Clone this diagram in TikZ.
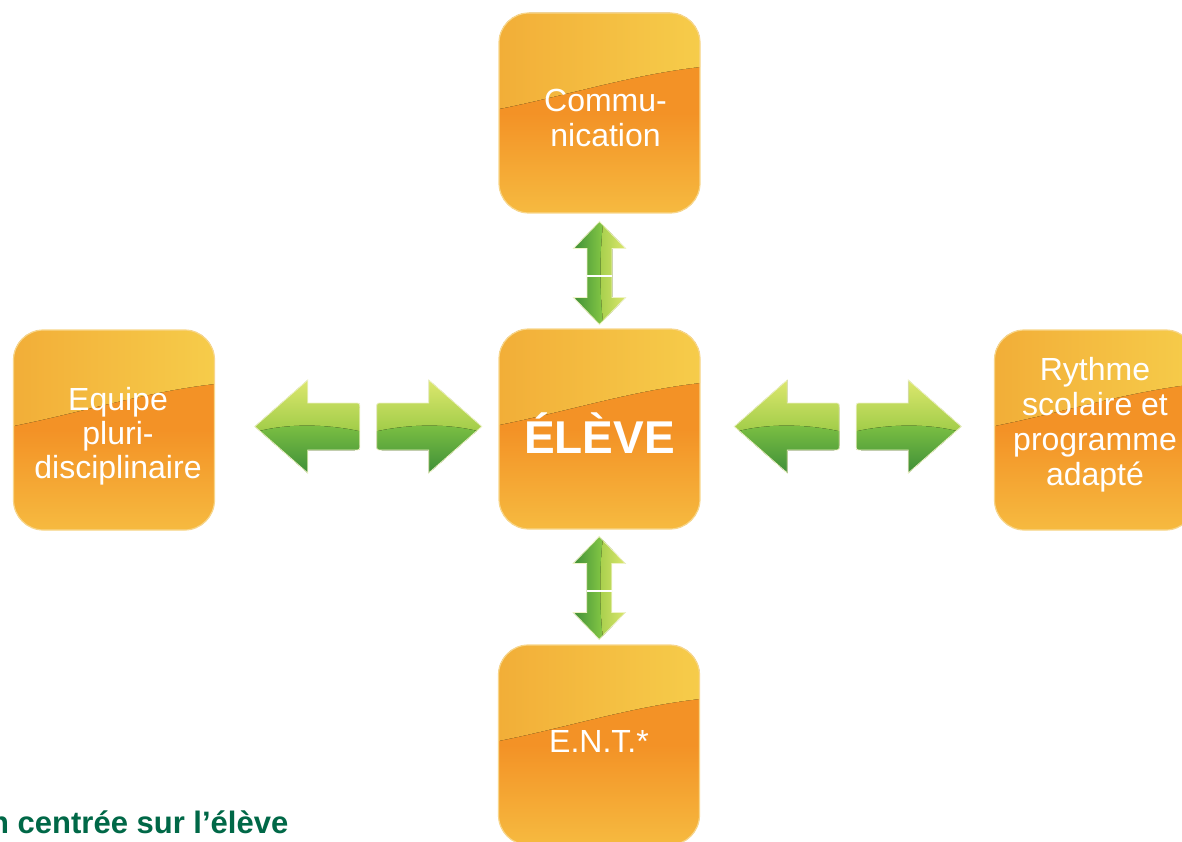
\documentclass[tikz,border=0pt]{standalone}
\usepackage{fontspec}
\setmainfont{Liberation Sans}
\usetikzlibrary{calc}
\definecolor{orD}{HTML}{F39226}
\definecolor{orL}{HTML}{F6BA40}
\definecolor{orTL}{HTML}{F2AE38}
\definecolor{orTR}{HTML}{F6CC4A}
\definecolor{orEdge}{HTML}{F8D68A}
\definecolor{gD}{HTML}{3E8E38}
\definecolor{gA}{HTML}{A6CF4C}
\definecolor{gM}{HTML}{7DC143}
\definecolor{gL}{HTML}{DDE76E}
\definecolor{gEdge}{HTML}{EEF3C4}
\definecolor{ttl}{RGB}{0,104,71}
\tikzset{
 card/.style={minimum width=201pt, minimum height=200pt, inner sep=0pt,
  rounded corners=30pt, draw=orEdge, line width=1.2pt,
  path picture={
   \fill[sharp corners, top color=orD, bottom color=orL, middle color=orD]
     (path picture bounding box.south west) rectangle (path picture bounding box.north east);
   \fill[sharp corners, left color=orTL, right color=orTR]
     (path picture bounding box.north west)
     -- ([yshift=-96pt]path picture bounding box.north west)
     .. controls ([xshift=70pt,yshift=-82pt]path picture bounding box.north west)
     and ([xshift=-70pt,yshift=-62pt]path picture bounding box.north east)
     .. ([yshift=-54pt]path picture bounding box.north east)
     -- (path picture bounding box.north east) -- cycle;
  }},
 lbl/.style={text=white, align=center, inner sep=0pt, font=\fontsize{32}{35}\selectfont},
 harrow/.pic={
  \begin{scope}
   \clip (105,0) -- (52,-46.5) -- (52,-23.5) -- (5,-23.5) .. controls (0,-23.5) .. (0,-18.5)
     -- (0,18.5) .. controls (0,23.5) .. (5,23.5) -- (52,23.5) -- (52,46.5) -- cycle;
   \fill[top color=gL, bottom color=gD, middle color=gA] (-1,-47) rectangle (106,47);
   \fill[top color=gM, bottom color=gD] (-1,5) .. controls (35,-3) and (75,-3) .. (106,6)
     -- (106,47) -- (-1,47) -- cycle;
  \end{scope}
  \draw[gEdge, line width=0.8pt] (105,0) -- (52,-46.5) -- (52,-23.5) -- (5,-23.5)
     .. controls (0,-23.5) .. (0,-18.5) -- (0,18.5) .. controls (0,23.5) .. (5,23.5)
     -- (52,23.5) -- (52,46.5) -- cycle;
 },
 varrow/.pic={
  \begin{scope}
   \clip (0,-51.5) -- (26,-24.5) -- (12.5,-24.5) -- (12.5,24.5) -- (26,24.5) -- (0,51.5)
     -- (-26,24.5) -- (-12.5,24.5) -- (-12.5,-24.5) -- (-26,-24.5) -- cycle;
   \fill[left color=gD, right color=gL, middle color=gM] (-27,-52) rectangle (27,52);
   \fill[left color=gA, right color=gL] (4,-52) .. controls (0,-20) and (0,20) .. (4,52)
     -- (27,52) -- (27,-52) -- cycle;
  \end{scope}
  \draw[gEdge, line width=0.8pt] (0,-51.5) -- (26,-24.5) -- (12.5,-24.5) -- (12.5,24.5)
     -- (26,24.5) -- (0,51.5) -- (-26,24.5) -- (-12.5,24.5) -- (-12.5,-24.5) -- (-26,-24.5) -- cycle;
  \draw[white, line width=1.2pt] (-12.5,3) -- (12.5,3);
 },
}
\begin{document}
\begin{tikzpicture}[x=1pt, y=-1pt]
\useasboundingbox[fill=white] (0,0) rectangle (1182,842);
\node[card] (comm) at (599.5,113) {};
\node[card] (eleve) at (599.5,429) {};
\node[card] (equipe) at (114,430) {};
\node[card] (rythme) at (1095,430) {};
\node[card] (ent) at (599,745) {};
\node[lbl] (tcomm) at ($(comm)+(6,5)$) {Commu-\\nication};
\node[lbl, font=\bfseries\fontsize{46}{50}\selectfont] (televe) at ($(eleve)+(0,4)$) {ÉLÈVE};
\node[lbl, font=\fontsize{32}{34}\selectfont] (tequipe) at ($(equipe)+(4,6)$) {Equipe\\pluri-\\disciplinaire};
\node[lbl] (trythme) at ($(rythme)+(0,-5)$) {Rythme\\scolaire et\\programme\\adapté};
\node[lbl] (tent) at ($(ent)+(0,-4)$) {E.N.T.*};
\coordinate (ml) at ($(equipe.east)!0.5!(eleve.west)+(11,-3)$);
\coordinate (mr) at ($(eleve.east)!0.5!(rythme.west)+(0,-3)$);
\coordinate (mt) at ($(comm.south)!0.5!(eleve.north)+(0,2)$);
\coordinate (mb) at ($(eleve.south)!0.5!(ent.north)+(0,1)$);
\pic[xscale=-1] at ($(ml)+(-8,0)$) {harrow};
\pic at ($(ml)+(9,0)$) {harrow};
\pic[xscale=-1] at ($(mr)+(-8,0)$) {harrow};
\pic at ($(mr)+(9,0)$) {harrow};
\pic at (mt) {varrow};
\pic at (mb) {varrow};
\node[anchor=base west, text=ttl, inner sep=0pt, font=\bfseries\fontsize{31}{34}\selectfont] (cap) at (-10,833) {n centrée sur l’élève};
\end{tikzpicture}
\end{document}
